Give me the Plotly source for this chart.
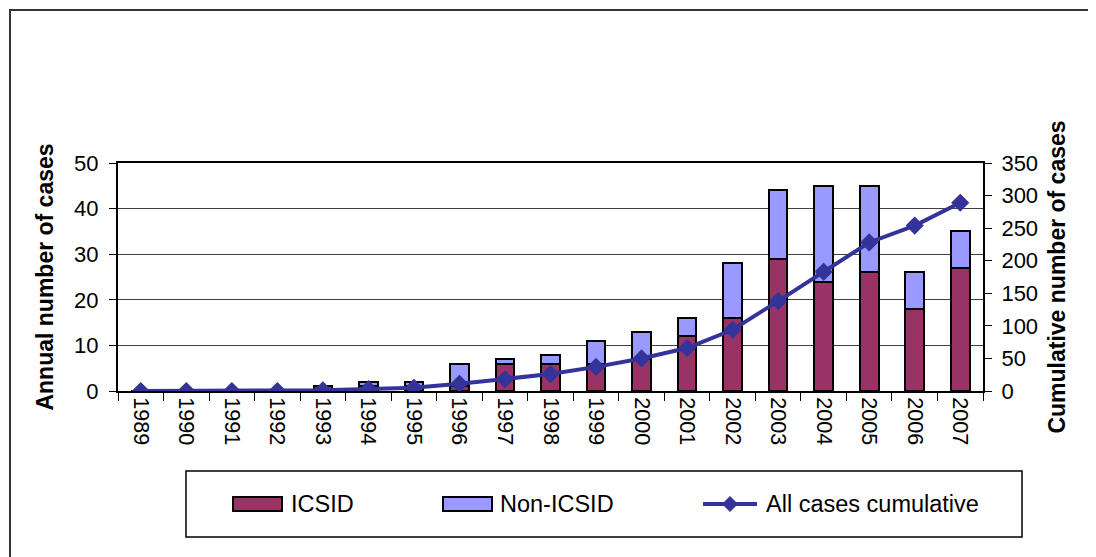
import plotly.graph_objects as go

years = ["1989", "1990", "1991", "1992", "1993", "1994", "1995", "1996", "1997", "1998",
         "1999", "2000", "2001", "2002", "2003", "2004", "2005", "2006", "2007"]
icsid = [0, 0, 0, 0, 1, 1, 1, 1, 6, 6, 6, 7, 12, 16, 29, 24, 26, 18, 27]
non_icsid = [0, 0, 0, 0, 0, 1, 1, 5, 1, 2, 5, 6, 4, 12, 15, 21, 19, 8, 8]
cumulative = [0, 0, 0, 0, 1, 3, 5, 11, 18, 26, 37, 50, 66, 94, 138, 183, 228, 254, 289]

series_names = ["ICSID", "Non-ICSID", "All cases cumulative"]
series_colors = ["#993366", "#9999FF", "#333399"]

FONT = "Liberation Sans, Arial, sans-serif"

# window geometry (the page body has an 8px margin)
OFF = 8
W, H = 1096, 557
L, R, T, B = 118, 983, 163, 391
pw, ph = R - L, B - T


def px_x(x):
    return (x - L) / pw


def px_y(y):
    return (B - y) / ph


fig = go.Figure()
fig.add_trace(go.Bar(x=years, y=icsid, name=series_names[0],
                     marker=dict(color=series_colors[0], line=dict(color="black", width=2))))
fig.add_trace(go.Bar(x=years, y=non_icsid, name=series_names[1],
                     marker=dict(color=series_colors[1], line=dict(color="black", width=2))))
fig.add_trace(go.Scatter(x=years, y=cumulative, name=series_names[2], yaxis="y2",
                         mode="lines+markers",
                         line=dict(color=series_colors[2], width=4),
                         marker=dict(symbol="diamond", size=14, color=series_colors[2])))

shapes = [
    # outer chart border
    dict(type="rect", xref="paper", yref="paper",
         x0=px_x(10), x1=px_x(1200), y0=px_y(10), y1=px_y(700),
         line=dict(color="#333333", width=2), fillcolor="rgba(0,0,0,0)", layer="below"),
    # legend box
    dict(type="rect", xref="paper", yref="paper",
         x0=px_x(186), x1=px_x(1022), y0=px_y(471), y1=px_y(537),
         line=dict(color="black", width=1.5), fillcolor="rgba(0,0,0,0)", layer="below"),
]
annotations = []

# manual legend entries
leg_y = 504
swatches = [(233, 282), (443, 492)]
text_x = [289, 498, 764]
for i, (x0, x1) in enumerate(swatches):
    shapes.append(dict(type="rect", xref="paper", yref="paper",
                       x0=px_x(x0), x1=px_x(x1), y0=px_y(leg_y - 7), y1=px_y(leg_y + 7),
                       line=dict(color="black", width=2), fillcolor=series_colors[i]))
shapes.append(dict(type="line", xref="paper", yref="paper",
                   x0=px_x(703), x1=px_x(757), y0=px_y(leg_y), y1=px_y(leg_y),
                   line=dict(color=series_colors[2], width=4)))
cx, cy, hw = 730, leg_y, 7.5
shapes.append(dict(type="path", xref="paper", yref="paper",
                   path=(f"M {px_x(cx - hw)} {px_y(cy)} L {px_x(cx)} {px_y(cy - hw)} "
                         f"L {px_x(cx + hw)} {px_y(cy)} L {px_x(cx)} {px_y(cy + hw)} Z"),
                   line=dict(color=series_colors[2], width=1), fillcolor=series_colors[2]))
for i, name in enumerate(series_names):
    annotations.append(dict(xref="paper", yref="paper", x=px_x(text_x[i]), y=px_y(leg_y),
                            xanchor="left", yanchor="middle", text=name, showarrow=False,
                            font=dict(size=23.5, family=FONT, color="black")))

fig.update_layout(
    width=W - OFF, height=H - OFF,
    margin=dict(l=L - OFF, r=W - R, t=T - OFF, b=H - B, autoexpand=False),
    paper_bgcolor="white", plot_bgcolor="white",
    barmode="stack", bargap=0.59,
    font=dict(family=FONT, color="black", size=22),
    showlegend=False,
    xaxis=dict(type="category", range=[-0.5, 18.5], showline=True, linecolor="black",
               linewidth=2, mirror=True,
               ticks="outside", ticklen=8, tickcolor="black", tickwidth=1, tickson="boundaries",
               tickangle=90, tickfont=dict(size=21.5), showgrid=False, automargin=False),
    yaxis=dict(range=[0, 50], dtick=10, showline=True, linecolor="black", linewidth=2,
               ticks="outside", ticklen=7, tickcolor="black", tickwidth=1,
               showgrid=True, gridcolor="#404040", gridwidth=1, zeroline=False,
               tickfont=dict(size=22), ticklabelstandoff=6, automargin=False,
               title=dict(text="<b>Annual number of cases</b>", font=dict(size=23), standoff=14)),
    yaxis2=dict(range=[0, 350], dtick=50, overlaying="y", side="right", showline=True,
                linecolor="black", linewidth=2, ticks="outside", ticklen=7, tickcolor="black",
                tickwidth=1, showgrid=False, zeroline=False, tickfont=dict(size=22),
                ticklabelstandoff=5, automargin=False,
                title=dict(text="<b>Cumulative number of cases</b>", font=dict(size=23), standoff=12)),
    shapes=shapes,
    annotations=annotations,
)

fig.write_html("out.html")
